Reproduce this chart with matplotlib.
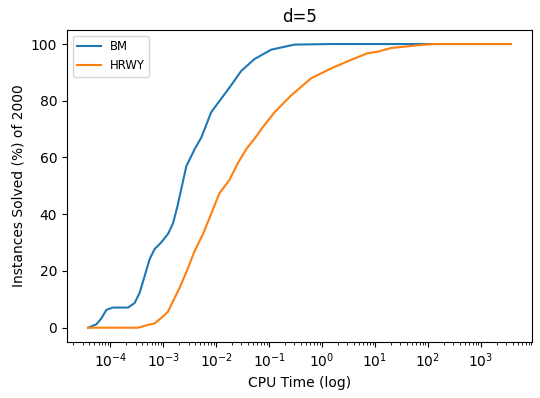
import matplotlib
matplotlib.use("Agg")
import matplotlib.pyplot as plt

bm_time = [3.79e-5, 5.44e-5, 6.76e-5, 8.41e-5, 1.12e-4, 2.16e-4, 2.87e-4, 3.57e-4,
           4.44e-4, 5.52e-4, 6.85e-4, 9.17e-4, 1.23e-3, 1.52e-3, 1.84e-3, 2.19e-3,
           2.72e-3, 3.90e-3, 5.21e-3, 8.05e-3, 0.0124, 0.0192, 0.0296, 0.0528,
           0.109, 0.300, 1.48, 3680]
bm_pct = [0, 1.2, 3.3, 6.3, 7.1, 7.1, 8.7, 12.3, 18.2, 24.2, 27.7, 30.1, 33.1,
          36.7, 42.6, 49, 56.9, 62.9, 67, 76, 80.7, 85.5, 90.5, 94.7, 98, 99.8,
          100, 100]

hrwy_time = [3.79e-5, 3.33e-4, 5.15e-4, 6.85e-4, 7.94e-4, 1.06e-3, 1.23e-3,
             1.52e-3, 2.03e-3, 2.92e-3, 3.90e-3, 5.61e-3, 8.05e-3, 0.0115,
             0.0178, 0.0256, 0.0368, 0.0612, 0.0707, 0.126, 0.260, 0.619, 1.48,
             3.52, 7.27, 11.4, 20.1, 47.8, 64.7, 130, 3680]
hrwy_pct = [0, 0, 1, 1.5, 2.5, 4.5, 5.7, 9.3, 14, 21, 27, 33, 40.2, 47.4, 52.1,
            58, 62.9, 68.2, 70, 75.9, 81.9, 87.9, 91.4, 94.4, 96.8, 97.3, 98.6,
            99.3, 99.6, 100, 100]

fig = plt.figure(figsize=(5.4, 3.98), dpi=100)
ax = fig.add_axes([0.124, 0.141, 0.861, 0.784])
ax.plot(bm_time, bm_pct, label="BM")
ax.plot(hrwy_time, hrwy_pct, label="HRWY")
ax.set_xscale("log")
ax.set_xlabel("CPU Time (log)")
ax.set_ylabel("Instances Solved (%) of 2000")
ax.set_title("d=5")
ax.legend(loc="upper left", fontsize="small")
fig.savefig("out.png", dpi=100)
